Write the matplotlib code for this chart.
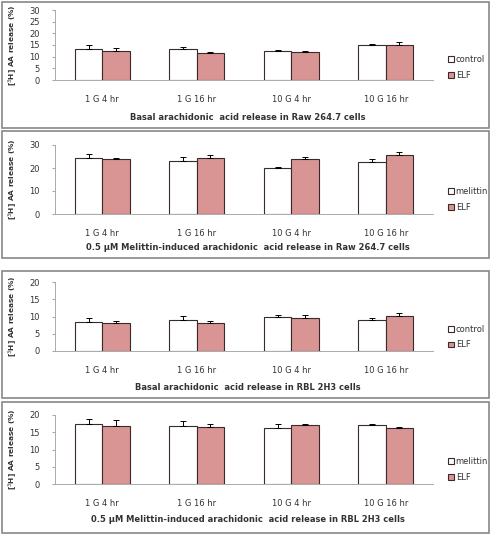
import matplotlib
matplotlib.use("Agg")
import matplotlib.pyplot as plt
from matplotlib.patches import Rectangle
import numpy as np

W, H = 492, 535

groups = ["1 G 4 hr", "1 G 16 hr", "10 G 4 hr", "10 G 16 hr"]

# panel 1: basal, Raw 264.7
raw_basal_ctrl = [13.3, 13.3, 12.3, 15.1]
raw_basal_ctrl_err = [1.8, 0.9, 0.5, 0.5]
raw_basal_elf = [12.5, 11.5, 11.9, 15.1]
raw_basal_elf_err = [1.3, 0.4, 0.4, 1.1]

# panel 2: melittin, Raw 264.7
raw_mel_ctrl = [24.2, 23.2, 19.8, 22.7]
raw_mel_ctrl_err = [2.1, 1.6, 0.7, 1.0]
raw_mel_elf = [23.7, 24.5, 24.0, 25.5]
raw_mel_elf_err = [0.8, 1.3, 0.8, 1.6]

# panel 3: basal, RBL 2H3
rbl_basal_ctrl = [8.5, 9.1, 9.9, 9.1]
rbl_basal_ctrl_err = [1.2, 1.0, 0.4, 0.6]
rbl_basal_elf = [8.0, 8.2, 9.5, 10.1]
rbl_basal_elf_err = [0.7, 0.5, 0.8, 0.8]

# panel 4: melittin, RBL 2H3
rbl_mel_ctrl = [17.5, 16.9, 16.25, 17.2]
rbl_mel_ctrl_err = [1.2, 1.3, 1.05, 0.3]
rbl_mel_elf = [16.9, 16.5, 17.2, 16.3]
rbl_mel_elf_err = [1.6, 1.0, 0.3, 0.2]

titles = [
    "Basal arachidonic  acid release in Raw 264.7 cells",
    "0.5 \u03bcM Melittin-induced arachidonic  acid release in Raw 264.7 cells",
    "Basal arachidonic  acid release in RBL 2H3 cells",
    "0.5 \u03bcM Melittin-induced arachidonic  acid release in RBL 2H3 cells",
]

ELF_COL = "#D99594"
EDGE = "#3a2a2a"
TXT = "#333333"

plt.rcParams.update({"font.family": "DejaVu Sans", "font.size": 6})

fig = plt.figure(figsize=(W / 100, H / 100), dpi=100)


def px_axes(x0, y0, x1, y1):
    return fig.add_axes([x0 / W, 1 - y1 / H, (x1 - x0) / W, (y1 - y0) / H])


# box top/bottom, axes top/bottom, ymax, ystep, first label, legend rows, title y, data
panels = [
    (2, 128, 10, 80, 30, 5, "control", 60, 75, 117,
     raw_basal_ctrl, raw_basal_ctrl_err, raw_basal_elf, raw_basal_elf_err),
    (131, 258, 145, 214, 30, 10, "melittin", 192, 207, 248,
     raw_mel_ctrl, raw_mel_ctrl_err, raw_mel_elf, raw_mel_elf_err),
    (271, 398, 282, 351, 20, 5, "control", 330, 344, 387,
     rbl_basal_ctrl, rbl_basal_ctrl_err, rbl_basal_elf, rbl_basal_elf_err),
    (402, 533, 415, 484, 20, 5, "melittin", 462, 477, 519,
     rbl_mel_ctrl, rbl_mel_ctrl_err, rbl_mel_elf, rbl_mel_elf_err),
]

x = np.arange(len(groups))
bw = 0.29
for i, (bt, bb, at, ab, ymax, ystep, lab, ly1, ly2, ty,
        ctrl, ctrl_err, elf, elf_err) in enumerate(panels):
    fig.patches.append(Rectangle((2 / W, 1 - bb / H), 487 / W, (bb - bt) / H,
                                 transform=fig.transFigure, fill=False,
                                 ec="#888888", lw=1.2))
    ax = px_axes(55, at, 433, ab)
    ax.bar(x - bw / 2, ctrl, bw, color="white", edgecolor=EDGE, lw=0.8,
           yerr=[[0] * 4, ctrl_err], capsize=2,
           error_kw=dict(elinewidth=0.7, capthick=0.7, ecolor="black"),
           label=lab)
    ax.bar(x + bw / 2, elf, bw, color=ELF_COL, edgecolor=EDGE, lw=0.8,
           yerr=[[0] * 4, elf_err], capsize=2,
           error_kw=dict(elinewidth=0.7, capthick=0.7, ecolor="black"),
           label="ELF")
    ax.set_xlim(-0.5, 3.5)
    ax.set_ylim(0, ymax)
    ax.set_yticks(np.arange(0, ymax + 1, ystep))
    ax.set_xticks(x)
    ax.set_xticklabels(groups, color=TXT)
    ax.tick_params(axis="x", length=0, pad=11)
    ax.tick_params(axis="y", length=2, color="#aaaaaa", labelcolor=TXT, pad=9)
    for s in ("top", "right"):
        ax.spines[s].set_visible(False)
    for s in ("left", "bottom"):
        ax.spines[s].set_color("#aaaaaa")
        ax.spines[s].set_linewidth(0.7)
    fig.text(13 / W, 1 - (at + ab) / 2 / H, "[$^3$H] AA release (%)",
             rotation=90, ha="center", va="center", fontsize=5.3,
             fontweight="bold", color=TXT)
    fig.text(248 / W, 1 - ty / H, titles[i], ha="center", va="center",
             fontsize=6, fontweight="bold", color=TXT)
    ax.legend(loc="center left", bbox_to_anchor=(444 / W, 1 - (ly1 + ly2) / 2 / H),
              bbox_transform=fig.transFigure, frameon=False, fontsize=6,
              handlelength=0.7, handleheight=0.7, handletextpad=0.2,
              labelspacing=0.8, borderpad=0, labelcolor=TXT)

fig.savefig("out.png", dpi=100)
